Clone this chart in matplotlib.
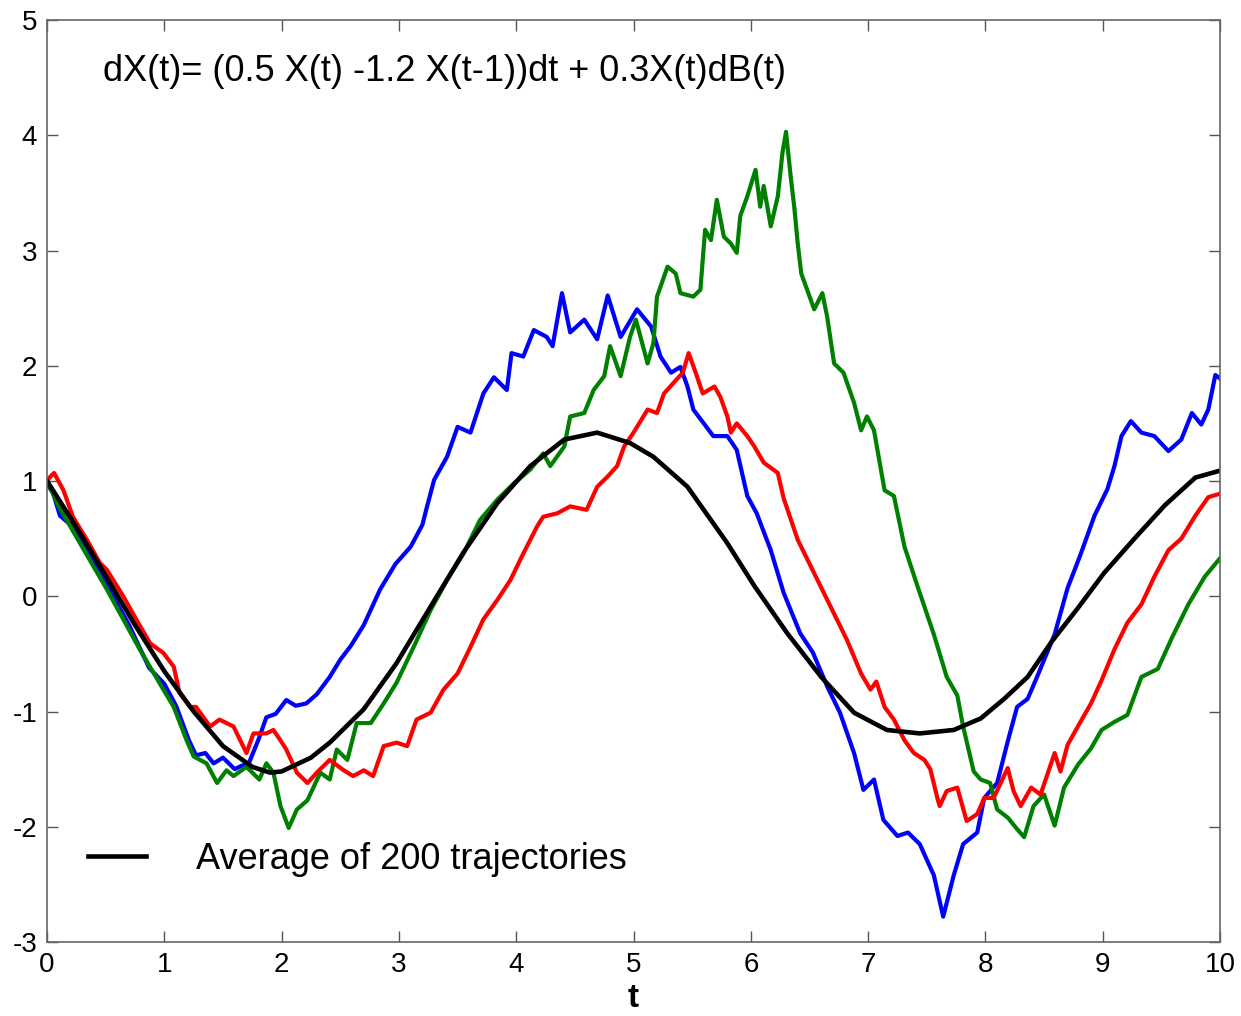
import matplotlib
matplotlib.use('Agg')
import matplotlib.pyplot as plt
import numpy as np

# ---------------------------------------------------------------------------------------------------------
# ------ data
# ---------------------------------------------------------------------------------------------------------
t_blue = [0, 0.05, 0.11, 0.2, 0.35, 0.5, 0.7, 0.87, 1.0, 1.1, 1.21, 1.27, 1.35, 1.42, 1.5, 1.6, 1.66, 1.72,
          1.8, 1.87, 1.95, 2.04, 2.12, 2.21, 2.3, 2.41, 2.5, 2.59, 2.7, 2.84, 2.97, 3.10, 3.2, 3.24, 3.30, 3.41,
          3.50, 3.61, 3.72, 3.81, 3.92, 3.96, 4.06, 4.15, 4.26, 4.31, 4.39, 4.46, 4.58, 4.69, 4.78, 4.89, 5.03,
          5.15, 5.23, 5.32, 5.40, 5.46, 5.51, 5.68, 5.80, 5.88, 5.97, 6.05, 6.17, 6.28, 6.42, 6.53, 6.65, 6.76,
          6.88, 6.96, 7.05, 7.13, 7.25, 7.34, 7.44, 7.56, 7.64, 7.73, 7.81, 7.93, 7.99, 8.10, 8.19, 8.27, 8.36,
          8.44, 8.59, 8.70, 8.81, 8.93, 9.04, 9.10, 9.16, 9.24, 9.33, 9.44, 9.56, 9.67, 9.76, 9.84, 9.90, 9.96, 10]
x_blue = [0.97, 0.9, 0.70, 0.62, 0.38, 0.12, -0.25, -0.62, -0.76, -0.95, -1.25, -1.38, -1.36, -1.45, -1.40,
          -1.50, -1.47, -1.45, -1.25, -1.05, -1.02, -0.90, -0.95, -0.93, -0.85, -0.70, -0.55, -0.43, -0.25, 0.06,
          0.28, 0.43, 0.62, 0.78, 1.01, 1.21, 1.47, 1.42, 1.76, 1.90, 1.79, 2.11, 2.08, 2.31, 2.25, 2.17, 2.63,
          2.29, 2.40, 2.23, 2.61, 2.25, 2.49, 2.34, 2.08, 1.94, 1.99, 1.82, 1.62, 1.39, 1.39, 1.27, 0.87, 0.72,
          0.40, 0.03, -0.32, -0.49, -0.78, -1.01, -1.36, -1.68, -1.59, -1.94, -2.08, -2.05, -2.15, -2.42, -2.78,
          -2.42, -2.15, -2.05, -1.75, -1.62, -1.26, -0.96, -0.89, -0.70, -0.33, 0.07, 0.36, 0.70, 0.93, 1.13,
          1.39, 1.52, 1.42, 1.39, 1.26, 1.36, 1.59, 1.49, 1.62, 1.92, 1.89]

t_green = [0, 0.1, 0.23, 0.51, 0.79, 0.94, 1.08, 1.19, 1.25, 1.36, 1.45, 1.53, 1.59, 1.70, 1.81, 1.87, 1.93,
           1.99, 2.06, 2.13, 2.22, 2.33, 2.41, 2.47, 2.56, 2.64, 2.76, 2.87, 2.98, 3.13, 3.27, 3.41, 3.55, 3.69,
           3.84, 3.98, 4.12, 4.23, 4.29, 4.41, 4.46, 4.58, 4.66, 4.75, 4.80, 4.89, 4.97, 5.02, 5.12, 5.17, 5.20,
           5.29, 5.36, 5.40, 5.51, 5.57, 5.61, 5.66, 5.71, 5.77, 5.83, 5.88, 5.91, 5.97, 6.04, 6.08, 6.11, 6.17,
           6.23, 6.27, 6.30, 6.34, 6.37, 6.40, 6.43, 6.48, 6.54, 6.61, 6.65, 6.71, 6.79, 6.88, 6.94, 6.99, 7.05,
           7.14, 7.22, 7.31, 7.42, 7.56, 7.67, 7.76, 7.81, 7.90, 7.96, 8.04, 8.10, 8.19, 8.27, 8.33, 8.41, 8.50,
           8.59, 8.67, 8.79, 8.90, 8.99, 9.10, 9.21, 9.33, 9.47, 9.59, 9.73, 9.87, 10]
x_green = [1.0, 0.78, 0.55, 0.06, -0.46, -0.72, -0.96, -1.25, -1.39, -1.45, -1.62, -1.51, -1.56, -1.48, -1.59,
           -1.45, -1.53, -1.82, -2.01, -1.85, -1.77, -1.53, -1.59, -1.33, -1.42, -1.10, -1.10, -0.93, -0.75,
           -0.43, -0.12, 0.14, 0.37, 0.66, 0.84, 0.98, 1.10, 1.24, 1.13, 1.30, 1.56, 1.59, 1.79, 1.91, 2.17, 1.91,
           2.25, 2.40, 2.02, 2.20, 2.60, 2.86, 2.80, 2.63, 2.60, 2.66, 3.18, 3.09, 3.44, 3.12, 3.06, 2.98, 3.30,
           3.47, 3.70, 3.38, 3.56, 3.21, 3.47, 3.85, 4.03, 3.64, 3.38, 3.06, 2.80, 2.66, 2.49, 2.63, 2.43, 2.02,
           1.94, 1.68, 1.44, 1.56, 1.44, 0.92, 0.87, 0.43, 0.09, -0.33, -0.70, -0.86, -1.13, -1.52, -1.59, -1.62,
           -1.85, -1.92, -2.02, -2.09, -1.82, -1.72, -1.99, -1.66, -1.46, -1.32, -1.16, -1.09, -1.03, -0.70,
           -0.63, -0.36, -0.07, 0.17, 0.33]

t_red = [0, 0.03, 0.06, 0.14, 0.22, 0.34, 0.45, 0.51, 0.65, 0.76, 0.88, 0.99, 1.08, 1.13, 1.22, 1.27, 1.39,
         1.47, 1.59, 1.70, 1.76, 1.87, 1.93, 1.99, 2.04, 2.13, 2.22, 2.30, 2.41, 2.53, 2.61, 2.70, 2.78, 2.87,
         2.98, 3.07, 3.15, 3.27, 3.38, 3.50, 3.61, 3.72, 3.84, 3.95, 4.06, 4.18, 4.23, 4.35, 4.46, 4.60, 4.69,
         4.78, 4.86, 4.92, 5.0, 5.12, 5.20, 5.26, 5.34, 5.42, 5.47, 5.53, 5.59, 5.69, 5.74, 5.80, 5.83, 5.88,
         5.97, 6.03, 6.11, 6.23, 6.28, 6.40, 6.54, 6.68, 6.82, 6.94, 7.02, 7.07, 7.14, 7.22, 7.31, 7.39, 7.48,
         7.53, 7.59, 7.61, 7.67, 7.76, 7.84, 7.93, 7.99, 8.07, 8.19, 8.24, 8.30, 8.39, 8.47, 8.59, 8.64, 8.70,
         8.81, 8.90, 8.99, 9.10, 9.21, 9.33, 9.44, 9.56, 9.67, 9.79, 9.90, 10]
x_red = [1.0, 1.04, 1.07, 0.92, 0.69, 0.49, 0.29, 0.23, 0.0, -0.20, -0.41, -0.49, -0.61, -0.84, -0.96, -0.96,
         -1.13, -1.07, -1.13, -1.36, -1.19, -1.19, -1.16, -1.25, -1.33, -1.53, -1.62, -1.53, -1.42, -1.51, -1.56,
         -1.51, -1.56, -1.30, -1.27, -1.30, -1.07, -1.01, -0.81, -0.67, -0.44, -0.20, -0.03, 0.14, 0.37, 0.61,
         0.69, 0.72, 0.78, 0.75, 0.95, 1.04, 1.13, 1.30, 1.42, 1.62, 1.59, 1.76, 1.85, 1.94, 2.11, 1.94, 1.76,
         1.82, 1.73, 1.56, 1.42, 1.50, 1.39, 1.30, 1.16, 1.07, 0.85, 0.49, 0.20, -0.09, -0.38, -0.67, -0.81,
         -0.74, -0.96, -1.07, -1.25, -1.36, -1.42, -1.50, -1.75, -1.82, -1.69, -1.66, -1.95, -1.89, -1.75, -1.75,
         -1.49, -1.69, -1.82, -1.66, -1.72, -1.36, -1.52, -1.29, -1.09, -0.93, -0.73, -0.46, -0.23, -0.07, 0.17,
         0.40, 0.50, 0.70, 0.86, 0.89]

t_mean = [0, 0.25, 0.5, 0.75, 1.0, 1.25, 1.5, 1.75, 1.9, 2.0, 2.25, 2.41, 2.70, 2.98, 3.27, 3.55, 3.84, 4.12,
          4.41, 4.69, 4.97, 5.17, 5.46, 5.80, 6.03, 6.31, 6.60, 6.88, 7.16, 7.44, 7.73, 7.96, 8.16, 8.36, 8.56,
          8.79, 9.01, 9.27, 9.53, 9.79, 10]
x_mean = [1.0, 0.6, 0.18, -0.25, -0.65, -1.0, -1.3, -1.48, -1.53, -1.52, -1.4, -1.27, -0.98, -0.58, -0.09,
          0.38, 0.81, 1.13, 1.36, 1.42, 1.33, 1.21, 0.95, 0.46, 0.09, -0.32, -0.70, -1.01, -1.16, -1.19, -1.16,
          -1.06, -0.89, -0.70, -0.40, -0.10, 0.20, 0.50, 0.79, 1.03, 1.09]

x_ticks = list(range(0, 11))
y_ticks = list(range(-3, 6))
equation = 'dX(t)= (0.5 X(t) -1.2 X(t-1))dt + 0.3X(t)dB(t)'
legend_label = 'Average of 200 trajectories'

# ---------------------------------------------------------------------------------------------------------
# ------ plot
# ---------------------------------------------------------------------------------------------------------
plt.rcParams['font.family'] = ['Liberation Sans', 'DejaVu Sans']
plt.rcParams['axes.unicode_minus'] = False   # - plain hyphen like MATLAB

fig = plt.figure(figsize=(12.41, 10.16), dpi=100)
ax1 = fig.add_axes([0.0379, 0.0728, 0.9452, 0.9075])

# - trajectories
ax1.plot(t_blue, x_blue, color=(0, 0, 1), lw=3.0)
ax1.plot(t_green, x_green, color=(0, 0.5, 0), lw=3.0)
ax1.plot(t_red, x_red, color=(1, 0, 0), lw=3.0)

# - mean of the trajectories
line_mean, = ax1.plot(t_mean, x_mean, color='black', lw=3.3, label=legend_label)

ax1.set_xlim(0, 10)
ax1.set_ylim(-3, 5)
ax1.set_xticks(x_ticks)
ax1.set_yticks(y_ticks)

# - MATLAB like box, ticks inside on every side
ax1.tick_params(direction='in', length=8, width=1, top=True, right=True,
                labelsize=20, pad=7, colors='#555555', labelcolor='black')
for sp in ax1.spines.values():
    sp.set_color('#666666')
    sp.set_linewidth(1.2)

ax1.set_xlabel('t', fontsize=24, fontweight='bold', labelpad=4)

# - equation on top
ax1.text(0.048, 0.944, equation, transform=ax1.transAxes, fontsize=26,
         ha='left', va='center')

# - legend
ax1.legend(handles=[line_mean], loc='center left', bbox_to_anchor=(0.035, 0.090),
           frameon=False, fontsize=26, handlelength=1.6, handletextpad=1.4,
           borderpad=0, borderaxespad=0)

fig.savefig('out.png', dpi=100)
